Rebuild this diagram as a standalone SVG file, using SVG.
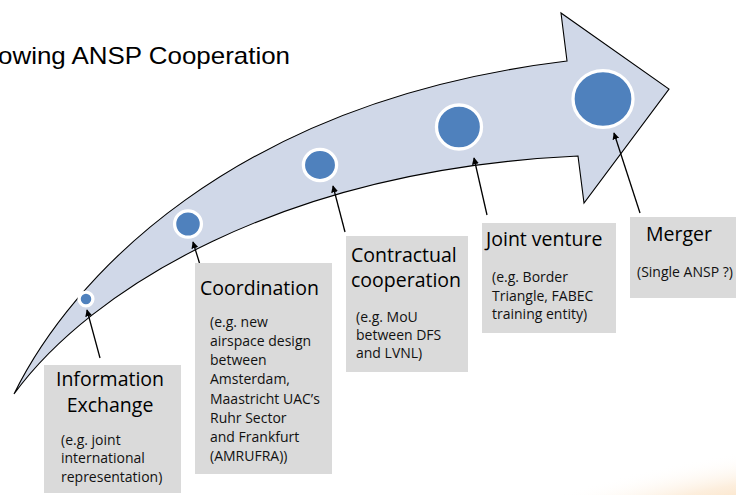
<svg xmlns="http://www.w3.org/2000/svg" width="736" height="495" viewBox="0 0 736 495">
<style>
.box{fill:#DADADA}
.dot{fill:#4F81BD;stroke:#FFFFFF;stroke-width:3.3}
.h{font-family:"Open Sans","Liberation Sans",sans-serif;font-size:19.5px;fill:#000}
.s{font-family:"Open Sans","Liberation Sans",sans-serif;font-size:14px;fill:#111}
.c{stroke:#000;stroke-width:1.3;fill:none;marker-end:url(#ah)}
</style>
<defs>
<marker id="ah" viewBox="0 0 10 10" refX="9" refY="5" markerWidth="7" markerHeight="7" markerUnits="userSpaceOnUse" orient="auto">
<path d="M0,0 L10,5 L0,10 z" fill="#000"/>
</marker>
<radialGradient id="glow" cx="0.5" cy="0.5" r="0.5">
<stop offset="0" stop-color="#F5B971" stop-opacity="0.75"/>
<stop offset="0.6" stop-color="#F8CF9E" stop-opacity="0.35"/>
<stop offset="1" stop-color="#FFFFFF" stop-opacity="0"/>
</radialGradient>
</defs>
<rect width="736" height="495" fill="#FFFFFF"/>
<ellipse cx="760" cy="530" rx="320" ry="80" transform="rotate(-8 760 530)" fill="url(#glow)"/>
<text x="-2" y="64" font-family="Liberation Sans, Arial, sans-serif" font-size="24" textLength="292" lengthAdjust="spacingAndGlyphs" fill="#000">owing ANSP Cooperation</text>
<g id="arrow">
<path d="M14,394 C70,280 230,102 567,61 L561,13 L669,89 L584,203 L578,156 C280,170 90,290 14,394 Z" fill="#D0D8E8" stroke="#000" stroke-width="1.1" stroke-linejoin="miter"/>
<ellipse class="dot" cx="86" cy="299" rx="6.9" ry="6.9"/>
<ellipse class="dot" cx="188" cy="224" rx="13.4" ry="13.2"/>
<ellipse class="dot" cx="320" cy="165" rx="16.6" ry="15.6"/>
<ellipse class="dot" cx="459" cy="127" rx="22.5" ry="22"/>
<ellipse class="dot" cx="603" cy="99" rx="30" ry="28.4"/>
</g>
<g id="connectors">
<line class="c" x1="100" y1="358" x2="87" y2="310"/>
<line class="c" x1="201" y1="268" x2="193" y2="242"/>
<line class="c" x1="345" y1="232" x2="333" y2="186"/>
<line class="c" x1="487" y1="215" x2="474" y2="158"/>
<line class="c" x1="640" y1="213" x2="614" y2="133"/>
</g>
<g id="info">
<rect class="box" x="44" y="365" width="137" height="128"/>
<text class="h" x="110" y="386" text-anchor="middle">Information</text>
<text class="h" x="110" y="412" text-anchor="middle">Exchange</text>
<text class="s" x="61" y="445">(e.g. joint</text>
<text class="s" x="61" y="463">international</text>
<text class="s" x="61" y="482">representation)</text>
</g>
<g id="coordination">
<rect class="box" x="195" y="263" width="137" height="211"/>
<text class="h" x="200" y="295">Coordination</text>
<text class="s" x="210" y="327">(e.g. new</text>
<text class="s" x="210" y="346">airspace design</text>
<text class="s" x="210" y="365">between</text>
<text class="s" x="210" y="384">Amsterdam,</text>
<text class="s" x="210" y="404">Maastricht UAC’s</text>
<text class="s" x="210" y="423">Ruhr Sector</text>
<text class="s" x="210" y="442">and Frankfurt</text>
<text class="s" x="210" y="461">(AMRUFRA))</text>
</g>
<g id="contractual">
<rect class="box" x="346" y="236" width="122" height="136"/>
<text class="h" x="351" y="262">Contractual</text>
<text class="h" x="351" y="287">cooperation</text>
<text class="s" x="356" y="322">(e.g. MoU</text>
<text class="s" x="356" y="340">between DFS</text>
<text class="s" x="356" y="358">and LVNL)</text>
</g>
<g id="joint">
<rect class="box" x="482" y="223" width="134" height="110"/>
<text class="h" x="486" y="246">Joint venture</text>
<text class="s" x="492" y="282">(e.g. Border</text>
<text class="s" x="492" y="301">Triangle, FABEC</text>
<text class="s" x="492" y="319">training entity)</text>
</g>
<g id="merger">
<rect class="box" x="630" y="217" width="110" height="81"/>
<text class="h" x="646" y="241">Merger</text>
<text class="s" x="637" y="277">(Single ANSP ?)</text>
</g>
</svg>
